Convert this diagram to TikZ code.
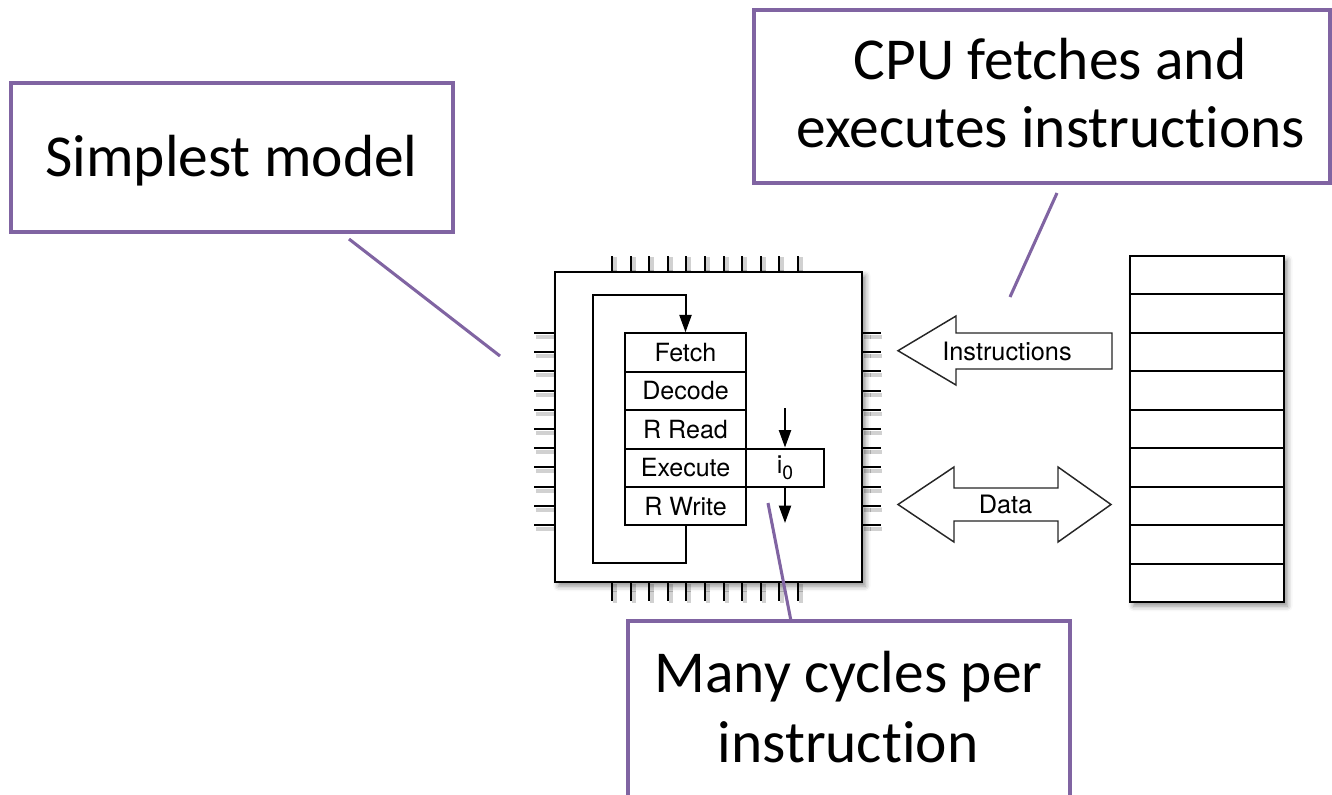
\documentclass[tikz,border=0pt]{standalone}
\usepackage{fontspec}
\setmainfont{TeX Gyre Heros}
\newfontfamily\callfont[Ligatures=NoCommon]{Carlito}
\usetikzlibrary{arrows.meta,shadows.blur}
\definecolor{callpurple}{RGB}{128,100,162}
\begin{document}
\begin{tikzpicture}[x=0.75pt,y=-0.75pt,
  callbox/.style={draw=callpurple, line width=2.3pt, inner sep=0pt},
  callline/.style={draw=callpurple, line width=2.3pt},
  calltext/.style={font=\callfont\fontsize{44.6pt}{52pt}\selectfont, anchor=base, inner sep=0pt},
  stage/.style={draw, line width=1.5pt, minimum width=90.75pt, minimum height=28.8pt, inner sep=0pt, font=\fontsize{18.8pt}{22pt}\selectfont},
  lbl/.style={inner sep=0pt, font=\fontsize{19pt}{22pt}\selectfont},
  pinline/.style={line width=1.5pt},
  pinshade/.style={line width=3pt, draw=black!18},
  flow/.style={line width=1.5pt, -{Triangle[length=13pt,width=9pt]}},
  blockarrow/.style={draw=black!85, line width=1.1pt, fill=white, line join=miter},
  shadowed/.style={blur shadow={shadow xshift=2.5pt, shadow yshift=-3pt, shadow blur radius=4pt, shadow opacity=45}}
]
\useasboundingbox (0,0) rectangle (1332,794);

% ---------- callout boxes ----------
\node[callbox, minimum width=331.5pt, minimum height=111.75pt] (box1) at (232,157.5) {};
\node[calltext] (t1) at (231.5,176) {Simplest model};

\node[callbox, minimum width=432pt, minimum height=129.75pt] (box2) at (1042,96.5) {};
\node[calltext] (t2a) at (1050,79) {CPU fetches and};
\node[calltext] (t2b) at (1051,147) {executes instructions};

\node[callbox, minimum width=331.5pt, minimum height=141.75pt] (box3) at (849,715.5) {};
\node[calltext] (t3a) at (848.5,692) {Many cycles per};
\node[calltext] (t3b) at (848,762) {instruction};

% ---------- pins (shadows first) ----------
\foreach \i in {0,...,10} {
  \draw[pinshade] ({612+18.6*\i+3},257) -- ({612+18.6*\i+3},272);
  \draw[pinshade] ({612+18.6*\i+3},584) -- ({612+18.6*\i+3},603);
  \draw[pinshade] (536,{333+19.2*\i+4}) -- (555,{333+19.2*\i+4});
  \draw[pinshade] (864,{333+19.2*\i+4}) -- (882,{333+19.2*\i+4});
}

% ---------- chip ----------
\node[draw, line width=1.5pt, fill=white, minimum width=230.25pt, minimum height=232.5pt, inner sep=0pt, shadowed] (chip) at (708.5,427) {};

\foreach \i in {0,...,10} {
  \draw[pinline] ({612+18.6*\i},256) -- ({612+18.6*\i},272);
  \draw[pinline] ({612+18.6*\i},582) -- ({612+18.6*\i},601);
  \draw[pinline] (534,{333+19.2*\i}) -- (555,{333+19.2*\i});
  \draw[pinline] (862,{333+19.2*\i}) -- (881,{333+19.2*\i});
}

% ---------- pipeline ----------
\node[stage] (fetch)   at (685.5,352.5) {Fetch};
\node[stage] (decode)  at (685.5,390.9) {Decode};
\node[stage] (rread)   at (685.5,429.3) {R Read};
\node[stage] (execute) at (685.5,467.7) {Execute};
\node[stage] (rwrite)  at (685.5,506.1) {R Write};
\node[stage, minimum width=58.5pt] (izero) at (785,467.7) {i\raisebox{-0.45ex}{\fontsize{14.5pt}{16pt}\selectfont 0}};

\coordinate (loopBL) at (593,562.7);
\coordinate (loopTL) at (593,295);
\draw[flow] (rwrite.south) |- (loopBL) -- (loopTL) -| (fetch.north);

\coordinate (inA) at (785,408);
\coordinate (outA) at (785,523);
\draw[flow] (inA) -- (izero.north);
\draw[flow] (izero.south) -- (outA);

% ---------- block arrows ----------
\draw[blockarrow] (898,350.7) -- (956,316) -- (956,333) -- (1112,333) -- (1112,369) -- (956,369) -- (956,385) -- cycle;
\node[lbl] (instr) at (1007,351) {Instructions};

\draw[blockarrow] (898,504.5) -- (954,467) -- (954,488) -- (1058,488) -- (1058,467) -- (1111,504.5) -- (1058,542) -- (1058,521) -- (954,521) -- (954,542) -- cycle;
\node[lbl] (data) at (1005.5,504) {Data};

% ---------- memory ----------
\node[draw, line width=1.5pt, fill=white, minimum width=115.5pt, minimum height=259.5pt, inner sep=0pt, shadowed] (mem) at (1207,429) {};
\foreach \k in {1,...,8} {
  \draw[line width=1.5pt] (1129,{256+38.44*\k}) -- (1284,{256+38.44*\k});
}

% ---------- callout connectors ----------
\coordinate (c1a) at (349,239);
\coordinate (c1b) at (500,356);
\draw[callline] (c1a) -- (c1b);
\coordinate (c2a) at (1057,193);
\coordinate (c2b) at (1010,297);
\draw[callline] (c2a) -- (c2b);
\coordinate (c3a) at (768,503);
\coordinate (c3b) at (791,621);
\draw[callline] (c3a) -- (c3b);
\end{tikzpicture}
\end{document}
